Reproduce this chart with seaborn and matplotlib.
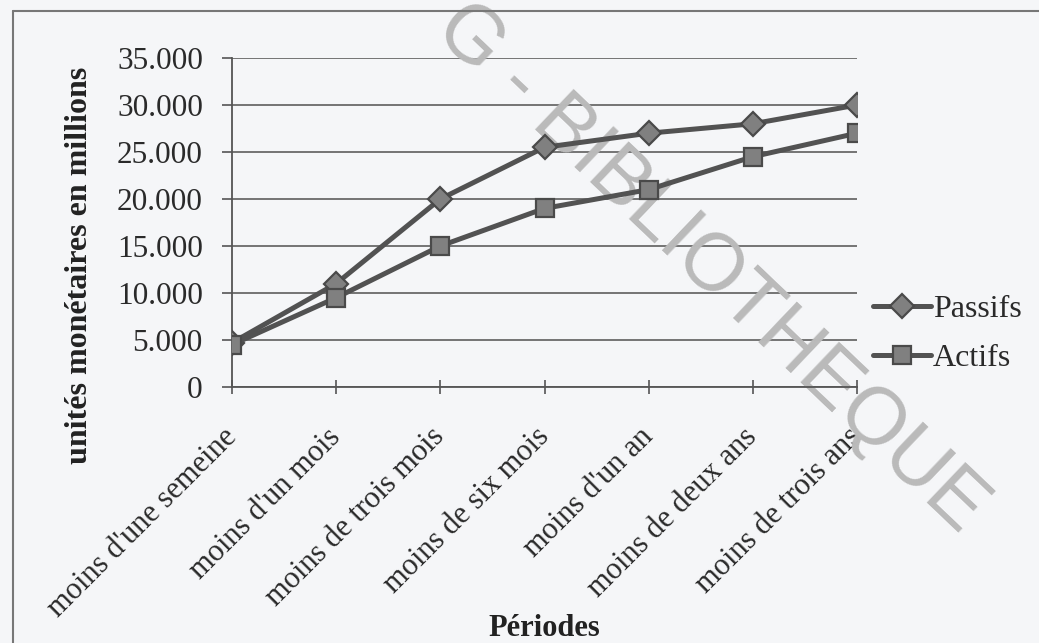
import numpy as np
import pandas as pd
import matplotlib
matplotlib.use("Agg")
import matplotlib.pyplot as plt
from matplotlib.lines import Line2D
from matplotlib.ticker import FuncFormatter, MultipleLocator
import seaborn as sns

# Maturity buckets and amounts (millions of monetary units)
periodes = ["moins d'une semeine", "moins d'un mois", "moins de trois mois",
            "moins de six mois", "moins d'un an", "moins de deux ans",
            "moins de trois ans"]
passifs = [4700, 11000, 20000, 25500, 27000, 28000, 30000]
actifs = [4500, 9500, 15000, 19000, 21000, 24500, 27000]
series = ["Passifs", "Actifs"]

df = pd.DataFrame({
    "pos": list(range(len(periodes))) * 2,
    "valeur": passifs + actifs,
    "serie": ["Passifs"] * len(periodes) + ["Actifs"] * len(periodes),
})

sns.set_theme(style="white")
plt.rcParams["font.family"] = ["Liberation Serif", "DejaVu Serif"]

bg = "#f5f6f8"
fig = plt.figure(figsize=(10.39, 6.43), dpi=100, facecolor=bg)
ax = fig.add_axes([232 / 1039, 1 - 387 / 643, 625 / 1039, 329 / 643])
ax.set_facecolor(bg)

line_col = "#525252"
sns.lineplot(data=df, x="pos", y="valeur", hue="serie", style="serie",
             hue_order=series, style_order=series,
             palette={"Passifs": line_col, "Actifs": line_col},
             markers={"Passifs": "D", "Actifs": "s"}, dashes=False,
             linewidth=3.6, markersize=12.5, markerfacecolor="#808080",
             markeredgecolor="#4a4a4a", markeredgewidth=1.6,
             ax=ax, zorder=3, legend=True)

ax.set_xlim(0, len(periodes) - 1)
ax.set_ylim(0, 35000)
ax.yaxis.set_major_locator(MultipleLocator(5000))
ax.yaxis.set_major_formatter(FuncFormatter(
    lambda v, _: "0" if v == 0 else f"{v:,.0f}".replace(",", ".")))
ax.set_xticks(range(len(periodes)))
ax.set_xticklabels(periodes, rotation=45, ha="right", va="center",
                   rotation_mode="anchor", fontsize=22, color="#2a2a2a")
ax.tick_params(axis="y", labelsize=22.5, labelcolor="#2a2a2a", length=7,
               width=1.2, color="#555555", direction="out", pad=14, left=True)
ax.tick_params(axis="x", length=10, width=1.2, color="#555555",
               direction="inout", pad=28, bottom=True)

ax.grid(axis="y", color="#6a6a6a", linewidth=1.3)
ax.grid(axis="x", visible=False)
for side in ["top", "right"]:
    ax.spines[side].set_visible(False)
for side in ["left", "bottom"]:
    ax.spines[side].set_color("#555555")
    ax.spines[side].set_linewidth(1.3)

ax.set_ylabel("unités monétaires en millions", fontsize=23, fontweight="bold",
              color="#222222")
ax.yaxis.set_label_coords(-0.22, 0.37)
ax.set_xlabel("Périodes", fontsize=22, fontweight="bold", color="#222222")
ax.xaxis.set_label_coords(0.5, -0.69)

handles, labels = ax.get_legend_handles_labels()
leg = ax.legend(handles, labels, loc="upper left",
                bbox_to_anchor=(873 / 1039, 1 - 295 / 643),
                bbox_transform=fig.transFigure, frameon=False,
                fontsize=23, handlelength=1.8, handletextpad=0.08,
                labelspacing=0.6, borderpad=0, borderaxespad=0)
for t in leg.get_texts():
    t.set_color("#2a2a2a")

# Library stamp across the page
ax.text(960 / 1039, 1 - 535 / 643, "G - BIBLIOTHEQUE",
        transform=fig.transFigure, fontsize=58, family="Liberation Sans",
        color="#bababa", rotation=-43.6, rotation_mode="anchor",
        ha="right", va="baseline", zorder=1.5, clip_on=False)

# Page frame
fig.add_artist(Line2D([13 / 1039, 13 / 1039], [0, 1 - 11 / 643],
                      transform=fig.transFigure, color="#777777", lw=1.5))
fig.add_artist(Line2D([13 / 1039, 1], [1 - 11 / 643, 1 - 11 / 643],
                      transform=fig.transFigure, color="#777777", lw=1.5))

fig.savefig("out.png", dpi=100, facecolor=bg)
